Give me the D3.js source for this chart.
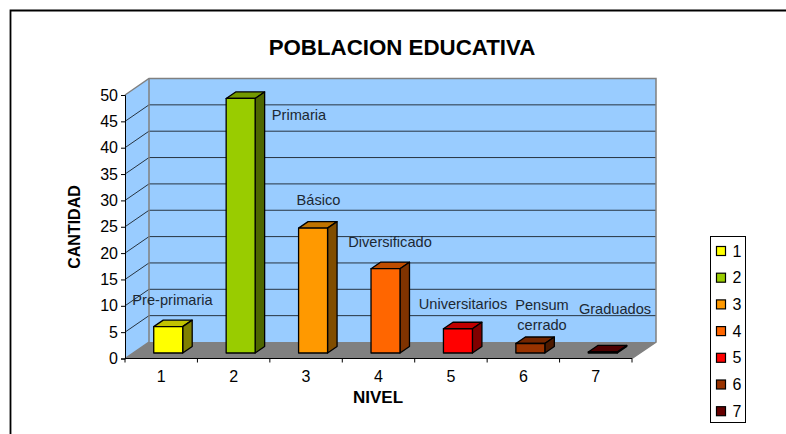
<!DOCTYPE html>
<html><head><meta charset="utf-8">
<script src="https://cdnjs.cloudflare.com/ajax/libs/d3/7.8.5/d3.min.js"></script>
<style>html,body{margin:0;padding:0;background:#fff}svg{display:block}text{font-family:"Liberation Sans",Arial,sans-serif}</style>
</head><body><svg id="c" width="786" height="434"></svg>
<script>
const categories=[1,2,3,4,5,6,7];
const values=[5,48.3,23.7,16,4.6,1.8,0.2];
const names=["Pre-primaria","Primaria","Básico","Diversificado","Universitarios","Pensum|cerrado","Graduados"];
const colors=["#ffff00","#99cc00","#ff9900","#ff6600","#ff0000","#993300","#660000"];
const sideColors=["#808000","#4d6600","#804d00","#803300","#800000","#4d1a00","#330000"];
const topColors=["#c2c200","#739900","#bf7300","#bf4d00","#bf0000","#732600","#4d0000"];
const ticks=d3.range(0,51,5);
const svg=d3.select("#c");
const dx=24,dy=16.5;
const y=d3.scaleLinear().domain([0,50]).range([358.5,95]);
const x=d3.scaleBand().domain(categories).range([132,639]).paddingInner(0.6).paddingOuter(0.3);
const xb=d3.scaleBand().domain(categories).range([125,632]);
const pts=a=>a.map(p=>p.join(",")).join(" ");
// frame
svg.append("path").attr("d","M10.5,434V10.5H786").attr("fill","none").attr("stroke","#000").attr("stroke-width",1.8);
// walls
const wall="#99ccff",edge="#808080";
svg.append("polygon").attr("points",pts([[125,y(0)],[125,y(50)],[125+dx,y(50)-dy],[125+dx,y(0)-dy]])).attr("fill",wall);
svg.append("rect").attr("x",125+dx).attr("y",y(50)-dy).attr("width",632-125).attr("height",y(0)-y(50)).attr("fill",wall);
svg.append("polygon").attr("points",pts([[125,y(0)],[632,y(0)],[632+dx,y(0)-dy],[125+dx,y(0)-dy]])).attr("fill","#808080");
// grid
ticks.slice(1,-1).forEach(t=>{
 svg.append("path").attr("d",`M125,${y(t)}L${125+dx},${y(t)-dy}H${632+dx}`).attr("fill","none").attr("stroke","#000").attr("stroke-opacity",.75);
});
svg.append("path").attr("d",`M125,${y(50)}L${125+dx},${y(50)-dy}H${632+dx}V${y(0)-dy}L632,${y(0)}`).attr("fill","none").attr("stroke",edge).attr("stroke-width",1.5);
svg.append("path").attr("d",`M${125+dx},${y(50)-dy}V${y(0)-dy}L125,${y(0)}`).attr("fill","none").attr("stroke",edge).attr("stroke-width",1.5);
// axes
const ay=d3.axisLeft(y).tickValues(ticks).tickSize(4).tickPadding(3);
const gy=svg.append("g").attr("transform","translate(125,0)").call(ay);
gy.attr("font-family",null);
gy.selectAll("text").attr("font-size",16).attr("fill","#000");
gy.selectAll("path,line").attr("stroke","#000");
const gx=svg.append("g").attr("transform",`translate(0,${y(0)})`);
gx.append("line").attr("x1",125).attr("x2",632).attr("stroke","#000");
d3.range(8).forEach(i=>{const px=125+i*xb.step();gx.append("line").attr("x1",px).attr("x2",px).attr("y2",4).attr("stroke","#000");});
gx.selectAll("text").data(categories).join("text").attr("x",d=>xb(d)+xb.bandwidth()/2).attr("y",23).attr("text-anchor","middle").attr("font-size",16).text(d=>d);
// bars
const off=5.5,ddx=9.5,ddy=6.5;
const g=svg.append("g").attr("stroke","#000").attr("stroke-width",1.3).attr("stroke-linejoin","round");
categories.forEach((c,i)=>{
 const l=x(c),r=l+x.bandwidth(),b=y(0)-off,t=y(values[i])-off;
 g.append("polygon").attr("points",pts([[l,t],[l+ddx,t-ddy],[r+ddx,t-ddy],[r,t]])).attr("fill",topColors[i]);
 g.append("polygon").attr("points",pts([[r,t],[r+ddx,t-ddy],[r+ddx,b-ddy],[r,b]])).attr("fill",sideColors[i]);
 g.append("rect").attr("x",l).attr("y",t).attr("width",x.bandwidth()).attr("height",b-t).attr("fill",colors[i]);
});
// labels
const lp=[[172.5,305],[299,120],[318.5,205],[390,247],[463,309],[542,310],[615,314]];
names.forEach((n,i)=>{
 n.split("|").forEach((s,j)=>svg.append("text").attr("x",lp[i][0]).attr("y",lp[i][1]+j*20).attr("text-anchor","middle").attr("font-size",14.6).attr("fill","#1c2833").text(s));
});
// titles
svg.append("text").attr("x",402).attr("y",55).attr("text-anchor","middle").attr("font-size",22.3).attr("font-weight","bold").text("POBLACION EDUCATIVA");
svg.append("text").attr("x",378).attr("y",402.5).attr("text-anchor","middle").attr("font-size",17).attr("font-weight","bold").text("NIVEL");
svg.append("text").attr("transform","translate(80,227) rotate(-90)").attr("text-anchor","middle").attr("font-size",16).attr("font-weight","bold").text("CANTIDAD");
// legend
svg.append("rect").attr("x",710.5).attr("y",236.5).attr("width",35).attr("height",186).attr("fill","#fff").attr("stroke","#000");
categories.forEach((c,i)=>{
 const ly=251+i*26.7;
 svg.append("rect").attr("x",716.5).attr("y",ly-4.5).attr("width",9).attr("height",9).attr("fill",colors[i]).attr("stroke","#000").attr("stroke-width",1.2);
 svg.append("text").attr("x",732.5).attr("y",ly+5.5).attr("font-size",16).text(c);
});
</script></body></html>
